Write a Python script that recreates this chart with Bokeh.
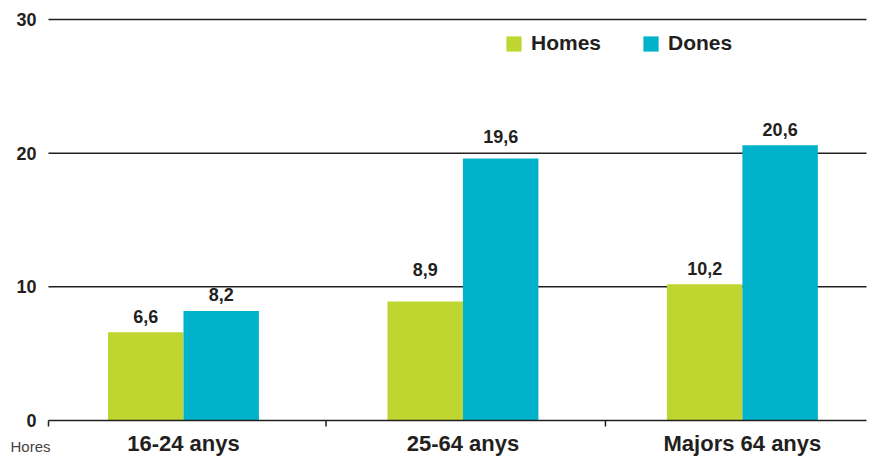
from bokeh.plotting import figure
from bokeh.models import ColumnDataSource, Range1d, Legend, LegendItem
from bokeh.core.properties import value
from bokeh.embed import file_html
from bokeh.resources import INLINE

categories = ["16-24 anys", "25-64 anys", "Majors 64 anys"]
homes = [6.6, 8.9, 10.2]
dones = [8.2, 19.6, 20.6]
yticks = [0, 10, 20, 30]
series_names = ["Homes", "Dones"]
unit_label = "Hores"

GREEN = "#BED62F"
BLUE = "#00B3CA"
FONT = "Liberation Sans"
DARK = "#231F20"

W, H = 874, 456
# pixel layout helpers (plot area 48..866 horizontally, 0 at 420px and 30 at 19px vertically)
XPX = 279.46           # px per category
YPX = 401 / 30.0       # px per unit
X_LEFT = -0.483
X_RIGHT = 2.444
x0 = X_LEFT - 48 / XPX
y1 = 30 + 19 / YPX
y0 = -(H - 420) / YPX

def px_x(px):
    return x0 + px / XPX

def px_y(px_from_top):
    return y1 - px_from_top / YPX

grid_y = yticks[1:]

def label_base(v, gap_px=9, cap_px=13, clear_px=10):
    """Baseline for a value label; lifted above a gridline it would otherwise cross."""
    base = v + gap_px / YPX
    for g in grid_y:
        if v < g < base + cap_px / YPX:
            base = max(base, g + clear_px / YPX)
    return base

xpos = list(range(len(categories)))
bw = 0.27
src = ColumnDataSource(dict(
    xh=[x - bw / 2 for x in xpos], xd=[x + bw / 2 for x in xpos],
    homes=homes, dones=dones,
    yh=[label_base(v) for v in homes], yd=[label_base(v) for v in dones],
    lh=[f"{v:.1f}".replace(".", ",") for v in homes],
    ld=[f"{v:.1f}".replace(".", ",") for v in dones],
))

p = figure(width=W, height=H, output_backend="svg", toolbar_location=None,
           x_range=Range1d(x0, x0 + W / XPX), y_range=Range1d(y0, y1),
           min_border=0)
p.axis.visible = False
p.grid.visible = False
p.outline_line_color = None
p.background_fill_color = "white"
p.border_fill_color = "white"

# gridlines at 10, 20, 30
p.segment(x0=[X_LEFT] * len(grid_y), x1=[X_RIGHT] * len(grid_y), y0=grid_y, y1=grid_y,
          line_color=DARK, line_width=1.5)

rh = p.vbar(x="xh", top="homes", width=bw, source=src, color=GREEN, line_color=None)
rd = p.vbar(x="xd", top="dones", width=bw, source=src, color=BLUE, line_color=None)

# baseline and category boundary ticks
p.segment(x0=[X_LEFT], x1=[X_RIGHT], y0=[0], y1=[0], line_color=DARK, line_width=1.5)
bounds = [X_LEFT, 0.51, 1.51]
tick_len = 6 / YPX
p.segment(x0=bounds, x1=bounds, y0=[0] * 3, y1=[-tick_len] * 3, line_color=DARK, line_width=1.5)

# value labels
for xf, yf, lf in (("xh", "yh", "lh"), ("xd", "yd", "ld")):
    p.text(x=xf, y=yf, text=lf, source=src, text_align="center", text_baseline="alphabetic",
           y_offset=-7, text_font=value(FONT), text_font_style="bold", text_font_size="18px",
           text_color=DARK)

# y tick labels
p.text(x=[px_x(36)] * len(yticks), y=yticks, text=[str(t) for t in yticks],
       text_align="right", text_baseline="middle", text_font=value(FONT),
       text_font_style="bold", text_font_size="18px", text_color=DARK)

# category labels
p.text(x=xpos, y=[px_y(443)] * len(xpos), text=categories, text_align="center",
       text_baseline="middle", text_font=value(FONT), text_font_style="bold",
       text_font_size="22px", text_color=DARK)

# unit label
p.text(x=[px_x(10)], y=[px_y(446)], text=[unit_label], text_align="left",
       text_baseline="middle", text_font=value(FONT), text_font_size="15px",
       text_color="#444444")

legend = Legend(items=[LegendItem(label=series_names[0], renderers=[rh]),
                       LegendItem(label=series_names[1], renderers=[rd])],
                orientation="horizontal", location=(504, 401),
                label_text_font=FONT, label_text_font_style="bold", label_text_font_size="21px",
                label_text_color=DARK, glyph_width=19, glyph_height=19,
                spacing=40, label_standoff=8, border_line_color=None,
                background_fill_alpha=0, padding=0, margin=0)
p.add_layout(legend)

open("out.html", "w").write(file_html(p, INLINE))
